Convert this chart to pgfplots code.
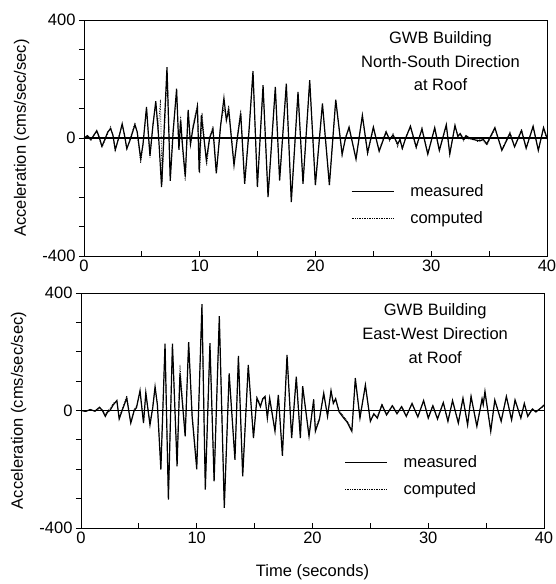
\documentclass[border=0pt]{standalone}
\usepackage{fontspec}
\setmainfont{Liberation Sans}
\usepackage{pgfplots}
\pgfplotsset{compat=1.18}

\pgfplotsset{
  quake/.style={
    scale only axis, width=463pt, height=236pt,
    xmin=0, xmax=40, ymin=-400, ymax=400,
    xtick={0,10,20,30,40}, xticklabels={0,10,20,30,40},
    minor xtick={5,15,25,35},
    ytick={-400,0,400}, yticklabels={-400,0,400},
    minor ytick={-300,-200,-100,100,200,300},
    tick style={black, line width=0.8pt},
    major tick length=5pt, minor tick length=5pt,
    axis line style={line width=0.9pt},
    ytick align=outside, xtick align=inside,
    tick pos=left,
    ticklabel style={font=\fontsize{16.5}{18}\selectfont},
    every axis y label/.style={at={(axis description cs:-0.135,0.5)}, rotate=90,
      anchor=center, font=\fontsize{16.5}{18}\selectfont},
    legend style={draw=none, fill=none, font=\fontsize{16.5}{18}\selectfont,
      row sep=9pt, anchor=north west,
      /tikz/every odd column/.append style={column sep=14pt}},
    legend cell align=left,
    legend image code/.code={\draw[#1] (0pt,0pt) -- (42pt,0pt);},
  },
  meas/.style={black, line width=1.2pt},
  comp/.style={black, line width=0.7pt, densely dotted},
}

\pgfplotstableread{
t v
0 0
0.3 8
0.6 -5
0.9 12
1.1 25
1.3 5
1.55 -28
1.8 -5
2.05 20
2.3 32
2.5 10
2.7 -40
3.0 0
3.3 48
3.5 10
3.7 -36
4.0 -5
4.4 45
4.6 20
4.9 -70
5.1 -20
5.4 105
5.55 20
5.7 -60
5.95 40
6.2 125
6.4 30
6.5 -30
6.7 -166
6.9 10
7.17 240
7.45 -145
7.7 20
8.0 167
8.2 -40
8.35 60
8.5 -20
8.75 -130
9.0 95
9.2 -20
9.4 30
9.8 105
9.95 -115
10.14 77
10.57 -75
10.85 0
11.14 30
11.43 -120
11.8 40
12.09 135
12.3 60
12.5 95
12.96 -93
13.25 0
13.54 83
13.88 -155
14.25 20
14.6 227
14.98 -166
15.47 179
15.9 -200
16.53 173
16.9 -144
17.48 184
17.91 -217
18.49 156
18.92 -155
19.5 196
19.99 -160
20.6 117
21.2 -160
21.75 130
22.3 -55
22.6 0
22.9 37
23.5 -72
24.05 77
24.5 -50
25.0 37
25.5 -45
26.1 20
26.4 -5
26.7 10
27.1 -20
27.3 -5
27.5 -35
27.8 0
28.2 40
28.7 -30
29.2 30
29.7 -55
30.3 35
30.7 -42
31.3 45
31.6 -55
32.05 43
32.3 5
32.5 15
32.8 -5
33.0 8
33.3 0
33.6 -5
34.0 -8
34.2 -10
34.5 -5
34.8 -20
35.5 35
36.1 -42
36.8 15
37.2 -30
37.8 25
38.2 -35
38.8 40
39.25 -42
39.7 35
40 0
}\nsmeas

\pgfplotstableread{
t v
0 0
0.3 5
0.6 -8
0.9 15
1.1 20
1.3 0
1.55 -32
1.8 -10
2.05 15
2.3 38
2.5 5
2.7 -45
3.0 5
3.3 42
3.5 5
3.7 -40
4.0 0
4.4 52
4.6 15
4.9 -86
5.1 -25
5.4 98
5.55 15
5.7 -68
5.95 50
6.2 115
6.4 20
6.6 130
6.75 -150
6.95 20
7.2 225
7.45 -125
7.7 30
8.0 150
8.2 -30
8.35 75
8.5 -35
8.75 -145
9.0 85
9.2 -30
9.4 40
9.8 115
10.0 -120
10.2 85
10.6 -95
10.9 10
11.14 40
11.45 -110
11.8 50
12.09 100
12.3 70
12.5 110
12.96 -85
13.25 10
13.54 95
13.88 -145
14.25 30
14.6 215
14.98 -160
15.47 170
15.9 -190
16.53 165
16.9 -140
17.48 178
17.91 -205
18.49 150
18.92 -150
19.5 188
19.99 -155
20.6 110
21.2 -150
21.75 125
22.3 -60
22.6 5
22.9 30
23.5 -65
24.05 70
24.5 -55
25.0 30
25.5 -40
26.1 25
26.4 -10
26.7 15
27.1 -30
27.3 0
27.5 -40
27.8 5
28.2 35
28.7 -35
29.2 35
29.7 -50
30.3 30
30.7 -45
31.3 40
31.6 -50
32.05 38
32.3 10
32.5 10
32.8 -10
33.0 5
33.3 -5
33.6 0
34.0 -12
34.2 -5
34.5 -10
34.8 -25
35.5 30
36.1 -38
36.8 20
37.2 -28
37.8 30
38.2 -30
38.8 35
39.25 -40
39.7 30
40 -5
}\nscomp

\pgfplotstableread{
t v
0 0
0.4 -3
0.8 3
1.2 -2
1.6 11
1.85 0
2.1 -20
2.3 -5
2.5 0
2.8 20
3.1 34
3.3 -29
3.6 5
3.95 42
4.3 -43
4.6 0
4.8 10
5.1 68
5.4 -43
5.6 61
5.96 -49
6.2 10
6.4 81
6.6 19
6.9 -201
7.26 228
7.55 -303
7.9 228
8.3 -190
8.55 126
9.0 -88
9.3 233
9.6 -20
10.0 -200
10.45 362
10.74 -269
11.14 229
11.5 -241
11.95 321
12.38 -331
12.8 126
13.3 -168
13.6 186
13.97 -224
14.45 155
14.9 -94
15.2 42
15.5 13
15.7 40
15.9 48
16.1 -26
16.3 42
16.76 -71
17.05 53
17.4 -154
17.8 189
18.2 -94
18.6 115
18.95 -94
19.15 83
19.7 -88
20.1 36
20.25 -71
20.6 -30
20.97 59
21.3 -20
21.6 68
21.8 24
22.0 40
22.3 -5
22.7 -26
23.0 -40
23.4 -71
23.7 110
24.1 -26
24.57 87
25.0 -37
25.3 -11
25.6 -26
26.0 19
26.4 -15
26.9 16
27.3 -11
27.7 13
28.1 -20
28.6 24
29.1 -22
29.6 34
30.0 -26
30.4 16
30.8 -29
31.3 27
31.7 -37
32.1 34
32.6 -43
33.0 42
33.4 -49
33.7 48
34.2 -54
34.65 40
34.75 20
34.9 65
35.4 -71
35.75 36
36.3 -37
36.75 48
37.2 -32
37.5 36
38.0 -26
38.3 24
38.6 -20
39.0 5
39.3 -5
39.8 11
40 19
}\ewmeas

\pgfplotstableread{
t v
0 0
0.4 -2
0.8 4
1.2 -4
1.6 8
1.85 2
2.1 -15
2.3 0
2.5 5
2.8 25
3.1 30
3.3 -22
3.6 10
3.95 50
4.3 -38
4.6 5
4.8 15
5.1 60
5.4 -38
5.6 55
5.96 -42
6.2 15
6.4 75
6.6 25
6.9 -185
7.26 215
7.55 -280
7.9 215
8.3 -175
8.55 155
9.0 -80
9.3 220
9.6 -10
10.0 -180
10.45 340
10.74 -255
11.14 215
11.5 -230
11.95 305
12.38 -315
12.8 120
13.3 -155
13.6 178
13.97 -210
14.45 145
14.9 -85
15.2 45
15.5 20
15.7 35
15.9 45
16.1 -20
16.3 38
16.76 -65
17.05 48
17.4 -145
17.8 180
18.2 -88
18.6 110
18.95 -88
19.15 78
19.7 -82
20.1 40
20.25 -60
20.6 -25
20.97 55
21.3 -15
21.6 62
21.8 30
22.0 35
22.3 0
22.7 -20
23.0 -35
23.4 -65
23.7 100
24.1 -20
24.57 80
25.0 -32
25.3 -15
25.6 -20
26.0 22
26.4 -12
26.9 18
27.3 -8
27.7 15
28.1 -18
28.6 22
29.1 -20
29.6 30
30.0 -22
30.4 18
30.8 -25
31.3 25
31.7 -33
32.1 30
32.6 -40
33.0 38
33.4 -45
33.7 45
34.2 -50
34.65 38
34.75 22
34.9 60
35.4 -65
35.75 33
36.3 -33
36.75 45
37.2 -30
37.5 33
38.0 -24
38.3 22
38.6 -18
39.0 6
39.3 -4
39.8 10
40 15
}\ewcomp

\begin{document}
\begin{tikzpicture}
\useasboundingbox (-84pt,-328pt) rectangle (472pt,256pt);
% top: north-south
\begin{axis}[quake,
  ylabel={Acceleration (cms/sec/sec)},
  legend style={at={(axis description cs:0.57,0.32)}},
]
\addplot[meas] table[x=t, y=v] {\nsmeas};
\addlegendentry{measured}
\addplot[comp] table[x=t, y=v] {\nscomp};
\addlegendentry{computed}
\addplot[black, line width=1.2pt, forget plot] coordinates {(0,0) (40,0)};
\node[anchor=north, align=center, inner sep=0pt,
      font=\fontsize{16.5}{23.5}\selectfont]
  at (rel axis cs:0.77,0.95) {GWB Building\\North-South Direction\\at Roof};
\end{axis}
% bottom: east-west
\begin{axis}[quake, at={(-3pt,-272pt)}, height=235pt,
  ylabel={Acceleration (cms/sec/sec)},
  xlabel={Time (seconds)},
  every axis x label/.style={at={(axis description cs:0.5,-0.19)}, anchor=center,
    font=\fontsize{16.5}{18}\selectfont},
  legend style={at={(axis description cs:0.562,0.325)}},
]
\addplot[meas] table[x=t, y=v] {\ewmeas};
\addlegendentry{measured}
\addplot[comp] table[x=t, y=v] {\ewcomp};
\addlegendentry{computed}
\addplot[black, line width=1.2pt, forget plot] coordinates {(0,0) (40,0)};
\node[anchor=north, align=center, inner sep=0pt,
      font=\fontsize{16.5}{24}\selectfont]
  at (rel axis cs:0.765,0.955) {GWB Building\\East-West Direction\\at Roof};
\end{axis}
\end{tikzpicture}
\end{document}
